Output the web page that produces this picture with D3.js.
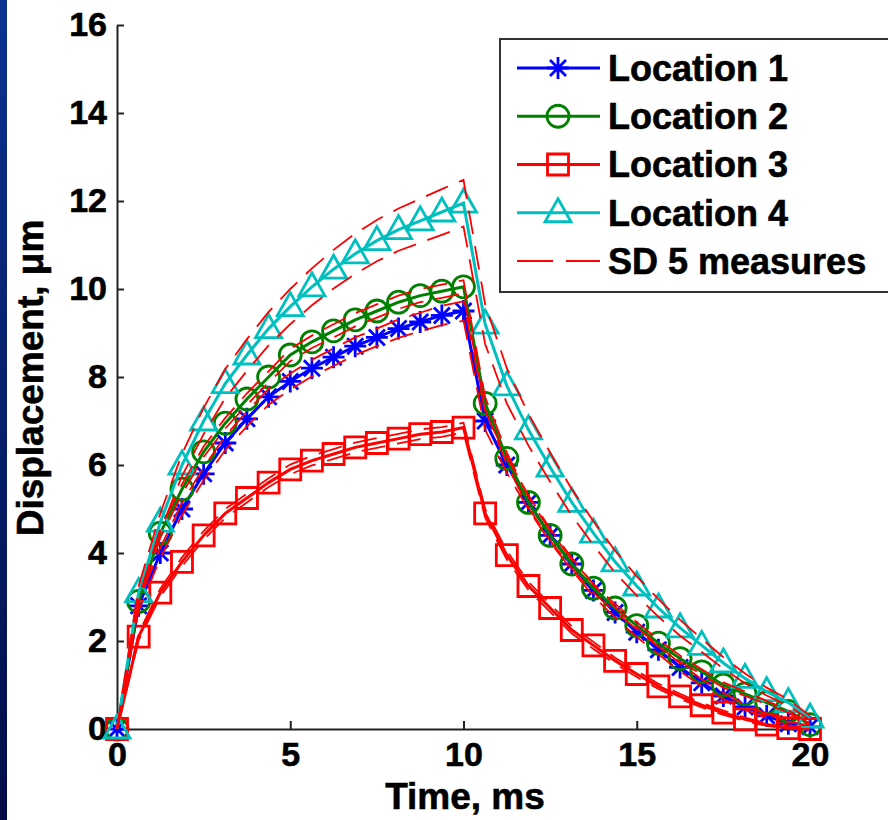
<!DOCTYPE html>
<html>
<head>
<meta charset="utf-8">
<script src="https://cdn.jsdelivr.net/npm/d3@7"></script>
<style>
  body { margin: 0; background: #fff; }
  svg { display: block; }
  text { font-family: "Liberation Sans", Arial, sans-serif; font-weight: bold; fill: #000; stroke: #000; stroke-width: 0.6px; }
</style>
</head>
<body>
<svg id="chart" width="888" height="820"></svg>
<script>
// sample times (ms)
const time = [0, 0.625, 1.25, 1.875, 2.5, 3.125, 3.75, 4.375, 5, 5.625, 6.25, 6.875, 7.5, 8.125, 8.75, 9.375, 10,
  10.625, 11.25, 11.875, 12.5, 13.125, 13.75, 14.375, 15, 15.625, 16.25, 16.875, 17.5, 18.125, 18.75, 19.375, 20];

// mean displacement per location (um)
const loc1 = [0, 2.8, 4.0, 5.0, 5.8, 6.5, 7.05, 7.55, 7.9, 8.2, 8.45, 8.7, 8.9, 9.1, 9.25, 9.4, 9.5,
  7.0, 6.0, 5.15, 4.4, 3.75, 3.15, 2.65, 2.2, 1.8, 1.4, 1.05, 0.75, 0.5, 0.3, 0.12, 0.05];
const loc2 = [0, 2.9, 4.45, 5.45, 6.3, 6.95, 7.5, 8.0, 8.5, 8.8, 9.05, 9.3, 9.5, 9.7, 9.85, 9.95, 10.05,
  7.4, 6.15, 5.15, 4.4, 3.75, 3.2, 2.75, 2.35, 1.95, 1.6, 1.3, 1.0, 0.8, 0.6, 0.4, 0.1];
const loc3 = [0, 2.1, 3.1, 3.8, 4.4, 4.9, 5.25, 5.6, 5.9, 6.1, 6.25, 6.4, 6.5, 6.6, 6.7, 6.75, 6.85,
  4.9, 3.95, 3.25, 2.75, 2.25, 1.9, 1.55, 1.25, 0.97, 0.74, 0.54, 0.37, 0.22, 0.1, 0.02, 0];
const loc4 = [0, 3.1, 4.7, 6.0, 7.0, 7.85, 8.5, 9.1, 9.6, 10.05, 10.45, 10.8, 11.1, 11.35, 11.55, 11.75, 11.95,
  9.2, 7.8, 6.8, 5.95, 5.15, 4.45, 3.8, 3.25, 2.75, 2.3, 1.9, 1.5, 1.15, 0.85, 0.6, 0.25];

// standard deviation over 5 measures
const sd1 = [0, 0.1, 0.12, 0.14, 0.15, 0.16, 0.17, 0.18, 0.18, 0.19, 0.2, 0.2, 0.2, 0.21, 0.21, 0.22, 0.22,
  0.2, 0.18, 0.16, 0.15, 0.14, 0.13, 0.12, 0.11, 0.1, 0.09, 0.08, 0.07, 0.06, 0.05, 0.04, 0.03];
const sd2 = [0, 0.08, 0.1, 0.11, 0.12, 0.12, 0.13, 0.13, 0.14, 0.14, 0.15, 0.15, 0.15, 0.15, 0.15, 0.15, 0.15,
  0.14, 0.13, 0.12, 0.11, 0.1, 0.1, 0.09, 0.08, 0.08, 0.07, 0.06, 0.06, 0.05, 0.04, 0.03, 0.02];
const sd3 = [0, 0.08, 0.09, 0.1, 0.1, 0.1, 0.1, 0.1, 0.11, 0.11, 0.11, 0.11, 0.11, 0.11, 0.11, 0.11, 0.11,
  0.1, 0.1, 0.09, 0.09, 0.08, 0.08, 0.07, 0.07, 0.06, 0.06, 0.05, 0.05, 0.04, 0.03, 0.02, 0.01];
const sd4 = [0, 0.15, 0.2, 0.25, 0.3, 0.33, 0.36, 0.38, 0.4, 0.42, 0.44, 0.46, 0.47, 0.48, 0.5, 0.52, 0.53,
  0.45, 0.4, 0.36, 0.33, 0.3, 0.27, 0.25, 0.22, 0.2, 0.18, 0.15, 0.13, 0.11, 0.09, 0.07, 0.05];

const xTicks = [0, 5, 10, 15, 20];
const yTicks = [0, 2, 4, 6, 8, 10, 12, 14, 16];

const series = [
  { name: "Location 1", values: loc1, sd: sd1, color: "#0000ff", marker: "star" },
  { name: "Location 2", values: loc2, sd: sd2, color: "#008000", marker: "circle" },
  { name: "Location 3", values: loc3, sd: sd3, color: "#ff0000", marker: "square" },
  { name: "Location 4", values: loc4, sd: sd4, color: "#00bfbf", marker: "triangle" }
];

const svg = d3.select("#chart");

// blue slide strip on the left
const grad = svg.append("defs").append("linearGradient")
  .attr("id", "strip").attr("x1", 0).attr("y1", 0).attr("x2", 0).attr("y2", 1);
grad.append("stop").attr("offset", "0%").attr("stop-color", "#0c3290");
grad.append("stop").attr("offset", "100%").attr("stop-color", "#030c48");
svg.append("rect").attr("x", 0).attr("y", 0).attr("width", 7).attr("height", 820).attr("fill", "url(#strip)");

const x = d3.scaleLinear().domain([0, 20]).range([117, 810]);
const y = d3.scaleLinear().domain([0, 16]).range([729, 25]);

// axes (ticks inside, box off)
const yAxis = svg.append("g")
  .attr("transform", "translate(117,0)")
  .call(d3.axisLeft(y).tickValues(yTicks).tickSizeInner(-7).tickSizeOuter(0).tickPadding(10));
const xAxis = svg.append("g")
  .attr("transform", "translate(0,729)")
  .call(d3.axisBottom(x).tickValues(xTicks).tickSizeInner(-8).tickSizeOuter(0).tickPadding(13));
[xAxis, yAxis].forEach(a => {
  a.selectAll("path, line").attr("stroke", "#222").attr("stroke-width", 2);
  a.selectAll("text").attr("font-size", 34).attr("font-family", null).attr("fill", "#000");
});

svg.append("text")
  .attr("x", 465).attr("y", 809)
  .attr("text-anchor", "middle")
  .attr("font-size", 37)
  .text("Time, ms");
svg.append("text")
  .attr("transform", "translate(43,378) rotate(-90)")
  .attr("text-anchor", "middle")
  .attr("font-size", 37)
  .text("Displacement, \u03bcm");

function markerPath(type) {
  if (type === "star") return "M-11,0H11M0,-11V11M-8,-8L8,8M-8,8L8,-8";
  if (type === "circle") return d3.symbol(d3.symbolCircle, Math.PI * 121)();
  if (type === "square") return "M-10.5,-10.5H10.5V10.5H-10.5Z";
  return "M0,-14L13,9H-13Z";
}

const line = d3.line().x((d, i) => x(time[i])).y(d => y(d));

// mean curves with markers
series.forEach(s => {
  const g = svg.append("g");
  g.append("path")
    .attr("d", line(s.values))
    .attr("fill", "none").attr("stroke", s.color).attr("stroke-width", 3);
  g.selectAll(".mk").data(s.values).join("path")
    .attr("class", "mk")
    .attr("transform", (d, i) => `translate(${x(time[i])},${y(d)})`)
    .attr("d", markerPath(s.marker))
    .attr("fill", "none").attr("stroke", s.color).attr("stroke-width", 2.8);
});

// SD bands: thin red dashed lines above and below each mean
series.forEach(s => {
  [1, -1].forEach(sign => {
    svg.append("path")
      .attr("d", line(s.values.map((v, i) => Math.max(0, v + sign * s.sd[i]))))
      .attr("fill", "none").attr("stroke", "#ff0000").attr("stroke-width", 1.8)
      .attr("stroke-dasharray", "24,12");
  });
});

// legend
const lg = svg.append("g");
lg.append("rect").attr("x", 500).attr("y", 39).attr("width", 400).attr("height", 253)
  .attr("fill", "#fff").attr("stroke", "#333").attr("stroke-width", 2);
const rowY = d3.scalePoint().domain([0, 1, 2, 3, 4]).range([68, 261]);
series.forEach((s, i) => {
  const r = lg.append("g").attr("transform", `translate(0,${rowY(i)})`);
  r.append("line").attr("x1", 517).attr("x2", 600).attr("stroke", s.color).attr("stroke-width", 3);
  r.append("path").attr("transform", "translate(558,0)").attr("d", markerPath(s.marker))
    .attr("fill", "none").attr("stroke", s.color).attr("stroke-width", 2.8);
  r.append("text").attr("x", 608).attr("dy", "0.36em").attr("font-size", 36).text(s.name);
});
const rs = lg.append("g").attr("transform", `translate(0,${rowY(4)})`);
rs.append("line").attr("x1", 517).attr("x2", 600).attr("stroke", "#ff0000").attr("stroke-width", 1.8)
  .attr("stroke-dasharray", "36,13");
rs.append("text").attr("x", 608).attr("dy", "0.36em").attr("font-size", 36).text("SD 5 measures");
</script>
</body>
</html>
